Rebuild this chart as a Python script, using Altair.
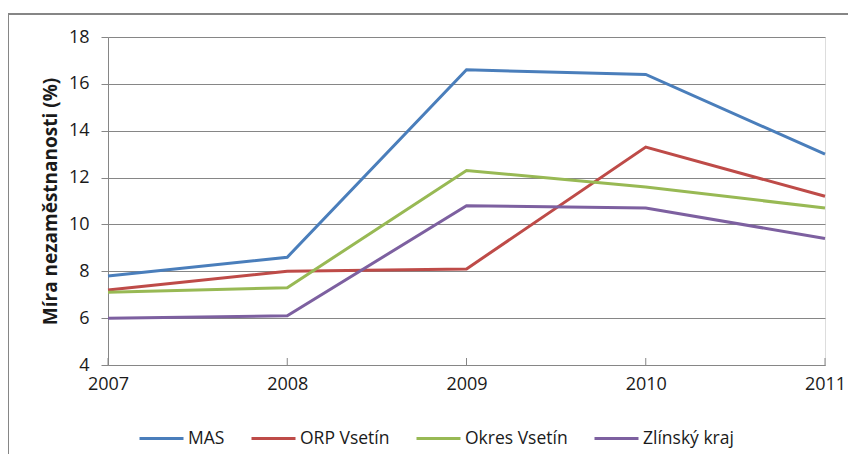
import altair as alt
import pandas as pd

years = [2007, 2008, 2009, 2010, 2011]
mas = [7.8, 8.6, 16.6, 16.4, 13.0]
orp = [7.2, 8.0, 8.1, 13.3, 11.2]
okres = [7.1, 7.3, 12.3, 11.6, 10.7]
zlin = [6.0, 6.1, 10.8, 10.7, 9.4]
series_names = ["MAS", "ORP Vsetín", "Okres Vsetín", "Zlínský kraj"]
colors = ["#4A7EBB", "#BE4B48", "#98B954", "#7D60A0"]
y_ticks = [4, 6, 8, 10, 12, 14, 16, 18]

rows = []
for name, vals in zip(series_names, [mas, orp, okres, zlin]):
    for yr, v in zip(years, vals):
        rows.append({"Rok": yr, "Hodnota": v, "Řada": name})
df = pd.DataFrame(rows)
df_years = pd.DataFrame({"Rok": years})

W, H = 717, 328
FONT = "Open Sans"
TXT = "#1a1a1a"

x_scale = alt.Scale(domain=[2007, 2011], nice=False, zero=False)
y_scale = alt.Scale(domain=[4, 18], nice=False, zero=False)

lines = alt.Chart(df).mark_line(strokeWidth=3).encode(
    x=alt.X("Rok:Q", scale=x_scale,
            axis=alt.Axis(values=years, format="d", title=None, grid=False,
                          tickSize=0, labelPadding=10, domainColor="#868686",
                          labelFlush=False,
                          labelFontSize=18, labelColor=TXT, labelFont=FONT)),
    y=alt.Y("Hodnota:Q", scale=y_scale,
            axis=alt.Axis(values=y_ticks, title="Míra nezaměstnanosti (%)",
                          titleFontSize=19, titleFontWeight="bold", titleFont=FONT,
                          titleColor=TXT, titlePadding=8,
                          grid=True, gridColor="#868686", gridWidth=1,
                          tickSize=7, tickColor="#868686", domainColor="#868686",
                          labelFontSize=18, labelColor=TXT, labelFont=FONT,
                          labelPadding=12)),
    color=alt.Color("Řada:N", scale=alt.Scale(domain=series_names, range=colors),
                    sort=series_names,
                    legend=alt.Legend(title=None, orient="none", direction="horizontal",
                                      legendX=30, legendY=378, symbolType="stroke",
                                      symbolSize=1936, symbolStrokeWidth=3,
                                      labelFontSize=17.5, labelFont=FONT, labelColor=TXT,
                                      labelOffset=3, columnPadding=20)),
)

xticks = alt.Chart(df_years).mark_rule(color="#868686", strokeWidth=1).encode(
    x=alt.X("Rok:Q", scale=x_scale),
    y=alt.value(H),
    y2=alt.value(H - 7),
)

frame_left = alt.Chart(df_years).mark_rule(color="#868686", strokeWidth=2).encode(
    x=alt.value(-100), y=alt.value(-23), y2=alt.value(H + 120)
)
frame_top = alt.Chart(df_years).mark_rule(color="#868686", strokeWidth=2).encode(
    x=alt.value(-100), x2=alt.value(W + 60), y=alt.value(-23)
)

chart = alt.layer(frame_left, frame_top, xticks, lines).properties(
    width=W, height=H,
    autosize=alt.AutoSizeParams(type="none"),
    padding={"left": 100, "top": 29, "right": 23, "bottom": 89},
).configure_view(stroke=None).configure(background="white")

chart.save("out.html", embed_options={"renderer": "svg", "actions": False})
